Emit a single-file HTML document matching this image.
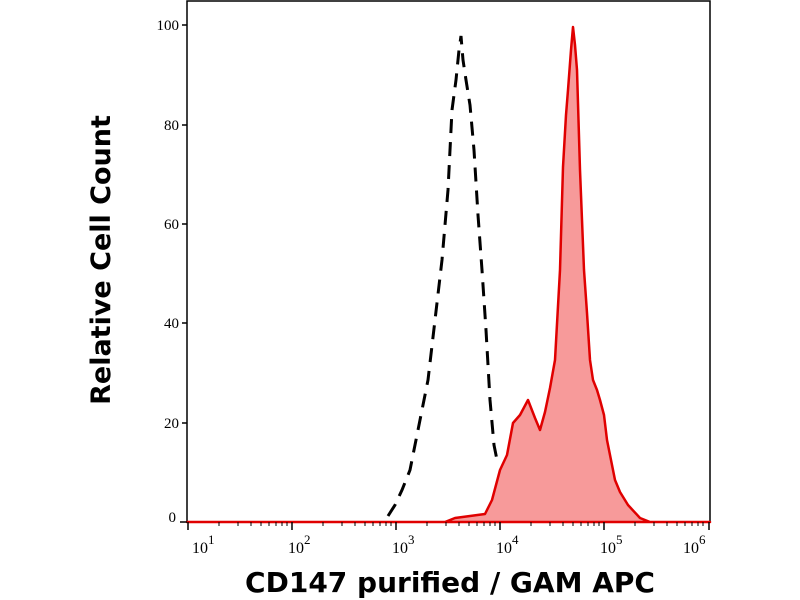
<!DOCTYPE html>
<html><head><style>body{margin:0;background:#fff}svg{display:block}</style></head><body>
<svg width="800" height="600" xmlns="http://www.w3.org/2000/svg" font-family="Liberation Serif, serif">
<rect x="187" y="1" width="523" height="521" fill="none" stroke="#000" stroke-width="1.5"/>
<path d="M187,522 L445,522 L455,518 L470,516 L485,514 L492,500 L500,470 L507,455 L513,423 L520,415 L528,400 L535,418 L540,430 L545,412 L550,388 L555,360 L560,270 L563,167 L566,115 L568,90 L571,50 L573,27 L575,45 L577,70 L580,170 L584,270 L587,313 L590,360 L593,380 L597,390 L600,400 L604,415 L607,440 L611,460 L615,480 L620,492 L628,505 L640,518 L650,522 L710,522 Z" fill="#f79a9a" stroke="#e00000" stroke-width="2.5" stroke-linejoin="round"/>
<path d="M388,516 L395,505 L402,490 L410,470 L420,420 L428,380 L435,320 L442,260 L448,190 L452,110 L456,80 L459,50 L461,36 L463,60 L466,80 L470,105 L474,150 L478,215 L482,270 L486,330 L490,400 L494,445 L498,465" fill="none" stroke="#000" stroke-width="3" stroke-dasharray="14,9"/>
<g stroke="#000" stroke-width="1.5">
<line x1="182" y1="25" x2="187" y2="25"/><line x1="182" y1="125" x2="187" y2="125"/><line x1="182" y1="224" x2="187" y2="224"/><line x1="182" y1="323" x2="187" y2="323"/><line x1="182" y1="423" x2="187" y2="423"/><line x1="180" y1="522" x2="187" y2="522"/>
<line x1="188" y1="522" x2="188" y2="530"/><line x1="292" y1="522" x2="292" y2="530"/><line x1="396" y1="522" x2="396" y2="530"/><line x1="500" y1="522" x2="500" y2="530"/><line x1="604" y1="522" x2="604" y2="530"/><line x1="709" y1="522" x2="709" y2="530"/>
</g>
<g stroke="#000" stroke-width="1">
<path d="M219,522v4M238,522v4M251,522v4M261,522v4M269,522v4M276,522v4M282,522v4M287,522v4
M323,522v4M342,522v4M355,522v4M365,522v4M373,522v4M380,522v4M386,522v4M391,522v4
M427,522v4M446,522v4M459,522v4M469,522v4M477,522v4M484,522v4M490,522v4M495,522v4
M531,522v4M550,522v4M563,522v4M573,522v4M581,522v4M588,522v4M594,522v4M599,522v4
M635,522v4M654,522v4M667,522v4M677,522v4M685,522v4M692,522v4M698,522v4M703,522v4"/>
</g>
<g font-size="15" text-anchor="end" fill="#000">
<text x="179" y="30">100</text><text x="179" y="130">80</text><text x="179" y="229">60</text><text x="179" y="328">40</text><text x="179" y="428">20</text><text x="176" y="522">0</text>
</g>
<g font-size="16" fill="#000">
<text x="192" y="553">10<tspan font-size="13" dy="-9">1</tspan></text>
<text x="288" y="553">10<tspan font-size="13" dy="-9">2</tspan></text>
<text x="392" y="553">10<tspan font-size="13" dy="-9">3</tspan></text>
<text x="496" y="553">10<tspan font-size="13" dy="-9">4</tspan></text>
<text x="600" y="553">10<tspan font-size="13" dy="-9">5</tspan></text>
<text x="683" y="553">10<tspan font-size="13" dy="-9">6</tspan></text>
</g>
<text x="450" y="592" font-family="DejaVu Sans, sans-serif" font-weight="bold" font-size="28" text-anchor="middle">CD147 purified / GAM APC</text>
<text transform="translate(110,260) rotate(-90)" font-family="DejaVu Sans, sans-serif" font-weight="bold" font-size="27" text-anchor="middle">Relative Cell Count</text>
</svg>
</body></html>
